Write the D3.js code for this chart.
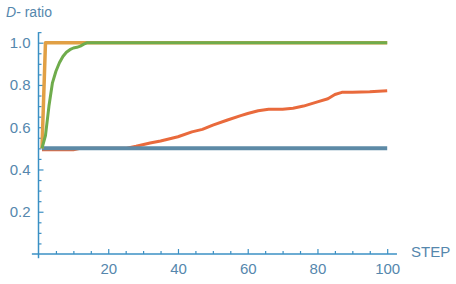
<!DOCTYPE html>
<html><head><meta charset="utf-8">
<script src="https://cdn.jsdelivr.net/npm/d3@7"></script>
<style>body{margin:0;background:#fff}svg{display:block}</style>
</head><body>
<svg id="c" width="456" height="284"></svg>
<script>
// ---- data ----
const blueSteps = [1, 100];
const blueValues = [0.5, 0.5];
const orangeSteps = [1, 2, 100];
const orangeValues = [0.5, 1.0, 1.0];
const greenSteps = [1, 2, 3, 4, 5, 6, 7, 8, 9, 10, 11, 12, 13, 14, 100];
const greenValues = [0.5, 0.56, 0.70, 0.81, 0.865, 0.905, 0.935, 0.955, 0.967, 0.975, 0.978, 0.984, 0.993, 1.0, 1.0];
const redSteps = [1, 10, 12, 25, 28, 32, 35, 40, 44, 47, 50, 54, 58, 60, 63, 66, 70, 73, 76, 80, 83, 85, 87, 90, 95, 100];
const redValues = [0.493, 0.493, 0.5, 0.5, 0.51, 0.525, 0.535, 0.555, 0.578, 0.59, 0.61, 0.633, 0.655, 0.665, 0.678, 0.685, 0.685, 0.69, 0.70, 0.72, 0.735, 0.755, 0.765, 0.766, 0.768, 0.773];
const xTicks = [20, 40, 60, 80, 100];
const yTicks = [0.2, 0.4, 0.6, 0.8, 1.0];
const xLabel = "STEP";
const yLabelItalic = "D";
const yLabelRest = "- ratio";

const series = [
  {steps: redSteps, values: redValues, color: "#e96a3c", w: 3},
  {steps: blueSteps, values: blueValues, color: "#5d8aa6", w: 4},
  {steps: orangeSteps, values: orangeValues, color: "#e1a045", w: 3.5},
  {steps: greenSteps, values: greenValues, color: "#6fac4c", w: 3}
];

const svg = d3.select("#c");
const x = d3.scaleLinear().domain([0, 100]).range([38.5, 387.2]);
const y = d3.scaleLinear().domain([0, 1]).range([254, 42.7]);
const axisColor = "#3b90c4";
const textColor = "#5587ad";

// axis lines
svg.append("line").attr("x1", x(-1.9)).attr("x2", x(102.8)).attr("y1", y(0)).attr("y2", y(0))
  .attr("stroke", axisColor).attr("stroke-width", 1.5);
svg.append("line").attr("x1", x(0)).attr("x2", x(0)).attr("y1", y(-0.02)).attr("y2", y(1.05))
  .attr("stroke", axisColor).attr("stroke-width", 1.5);

// minor ticks
const xMinor = d3.range(5, 101, 5).filter(v => v % 20 !== 0);
const yMinor = d3.range(0.05, 1.051, 0.05).filter(v => Math.abs(v*5 - Math.round(v*5)) > 1e-6);
const gxm = svg.append("g").attr("transform", `translate(0,${y(0)})`)
  .call(d3.axisBottom(x).tickValues(xMinor).tickSize(-3).tickFormat(""));
const gym = svg.append("g").attr("transform", `translate(${x(0)},0)`)
  .call(d3.axisLeft(y).tickValues(yMinor).tickSize(-3).tickFormat(""));

// major ticks
const gx = svg.append("g").attr("transform", `translate(0,${y(0)})`)
  .call(d3.axisBottom(x).tickValues(xTicks).tickSize(-5).tickPadding(9).tickFormat(d3.format("d")));
const gy = svg.append("g").attr("transform", `translate(${x(0)},0)`)
  .call(d3.axisLeft(y).tickValues(yTicks).tickSize(-5).tickPadding(8).tickFormat(d3.format(".1f")));

[gxm, gym, gx, gy].forEach(g => {
  g.select(".domain").remove();
  g.selectAll(".tick line").attr("stroke", axisColor).attr("stroke-width", 1.2);
  g.selectAll("text").attr("fill", textColor).attr("font-family", "Liberation Sans, Arial, sans-serif").attr("font-size", 15);
});

// series
const line = d3.line().x(d => x(d[0])).y(d => y(d[1]));
series.forEach(s => {
  const pts = s.steps.map((st, i) => [st, s.values[i]]);
  svg.append("path").attr("d", line(pts)).attr("fill", "none")
    .attr("stroke", s.color).attr("stroke-width", s.w)
    .attr("stroke-linejoin", "round").attr("stroke-linecap", "butt");
});

// axis labels
const yl = svg.append("text").attr("x", 6).attr("y", 17)
  .attr("fill", textColor).attr("font-family", "Liberation Sans, Arial, sans-serif").attr("font-size", 14);
yl.append("tspan").attr("font-style", "italic").text(yLabelItalic);
yl.append("tspan").text(yLabelRest);
svg.append("text").attr("x", 411).attr("y", 257)
  .attr("fill", textColor).attr("font-family", "Liberation Sans, Arial, sans-serif").attr("font-size", 15)
  .text(xLabel);
</script>
</body></html>
